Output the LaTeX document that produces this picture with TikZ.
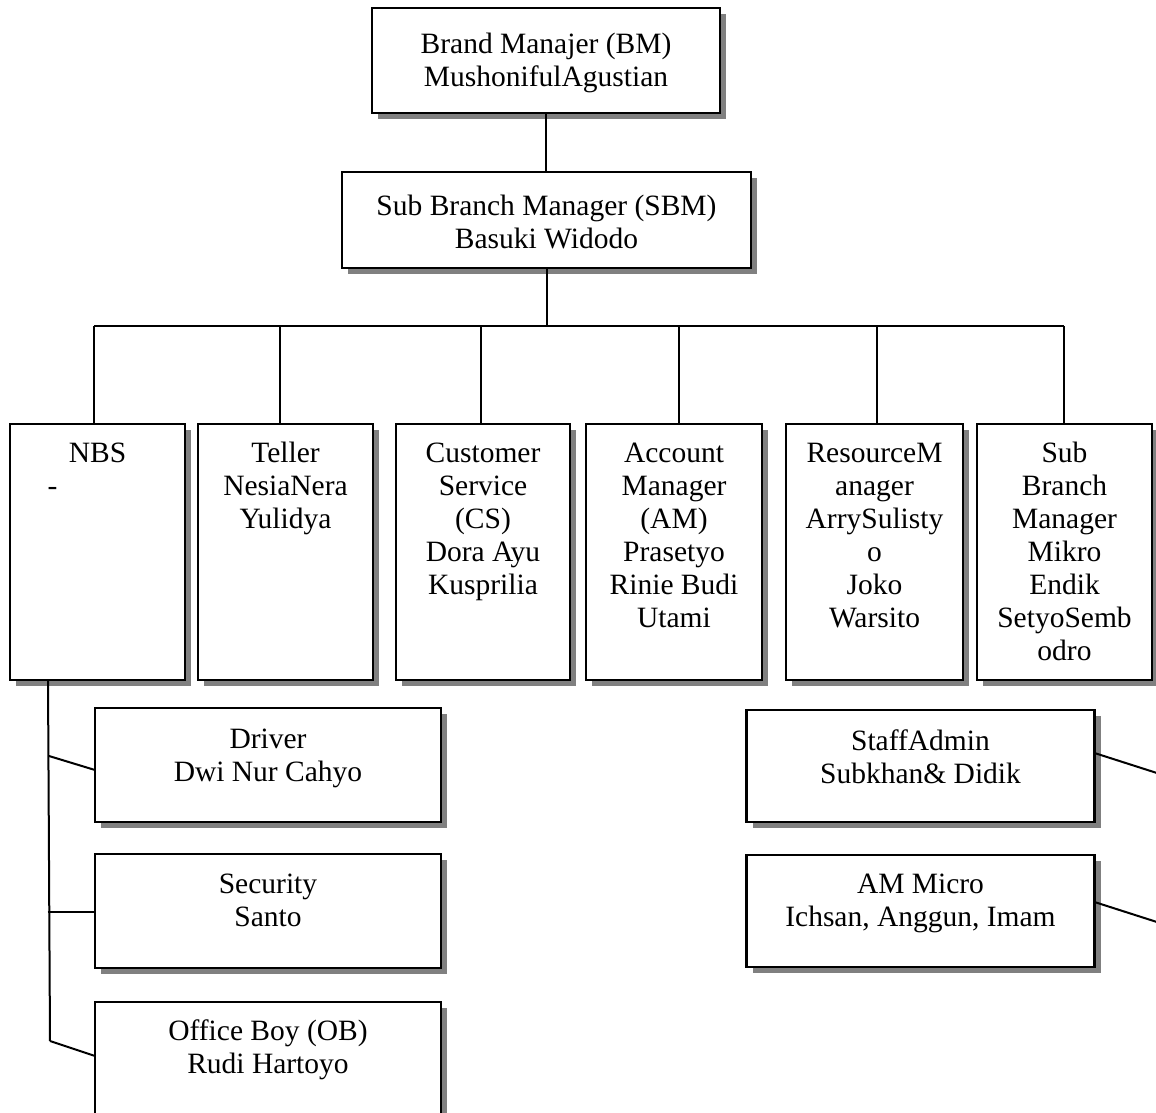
\documentclass[tikz,border=0pt]{standalone}
\usepackage{fontspec}
\setmainfont{Liberation Serif}
\usetikzlibrary{shadows,calc}
\newcommand\boxtext[4]{\parbox[c][#2][t]{#1}{\centering\rule{0pt}{#3}#4\par}}
\tikzset{
  orgbox/.style={draw, line width=2.3pt, fill=white, inner sep=0pt, outer sep=0pt,
    font=\fontsize{29.5}{33}\selectfont,
    drop shadow={shadow xshift=6pt, shadow yshift=-6pt, fill=black!50, opacity=1}},
  link/.style={line width=2pt}
}
\begin{document}
\begin{tikzpicture}[x=1pt,y=-1pt]
\useasboundingbox (0,0) rectangle (1156,1113);
% top levels
\node[orgbox] (bm) at (546,60.5) {\boxtext{348pt}{105pt}{46pt}{Brand Manajer (BM)\\MushonifulAgustian}};
\node[orgbox] (sbm) at (546.5,220) {\boxtext{409pt}{96pt}{43pt}{Sub Branch Manager (SBM)\\Basuki Widodo}};
% second level
\node[orgbox] (nbs) at (97.5,552) {\boxtext{175pt}{256pt}{38pt}{NBS\\\hspace*{-90pt}-}};
\node[orgbox] (teller) at (285.5,552) {\boxtext{175pt}{256pt}{38pt}{Teller\\NesiaNera\\Yulidya}};
\node[orgbox] (cs) at (483,552) {\boxtext{174pt}{256pt}{38pt}{Customer\\Service\\(CS)\\Dora Ayu\\Kusprilia}};
\node[orgbox] (am) at (674,552) {\boxtext{176pt}{256pt}{38pt}{Account\\Manager\\(AM)\\Prasetyo\\Rinie Budi\\Utami}};
\node[orgbox] (rm) at (874.5,552) {\boxtext{177pt}{256pt}{38pt}{ResourceM\\anager\\ArrySulisty\\o\\Joko\\Warsito}};
\node[orgbox] (sbmm) at (1064.5,552) {\boxtext{175pt}{256pt}{38pt}{Sub\\Branch\\Manager\\Mikro\\Endik\\SetyoSemb\\odro}};
% third level left
\node[orgbox] (driver) at (268,765) {\boxtext{346pt}{114pt}{40pt}{Driver\\Dwi Nur Cahyo}};
\node[orgbox] (security) at (268,911) {\boxtext{346pt}{114pt}{39pt}{Security\\Santo}};
\node[orgbox] (ob) at (268,1059) {\boxtext{346pt}{114pt}{38pt}{Office Boy (OB)\\Rudi Hartoyo}};
% third level right
\node[orgbox] (staff) at (920.5,766) {\boxtext{348pt}{112pt}{40pt}{StaffAdmin\\Subkhan\& Didik}};
\node[orgbox] (micro) at (920.5,911) {\boxtext{348pt}{112pt}{38pt}{AM Micro\\Ichsan, Anggun, Imam}};
% connectors
\coordinate (bL) at (94,326);
\coordinate (b2) at (280,326);
\coordinate (b3) at (481,326);
\coordinate (b4) at (679,326);
\coordinate (b5) at (877,326);
\coordinate (bR) at (1064,326);
\draw[link] (bm.south) -- (bm.south |- sbm.north);
\draw[link] (sbm.south) -- (sbm.south |- bL);
\draw[link] (bL) -- (bR);
\draw[link] (bL) -- (bL |- nbs.north);
\draw[link] (b2) -- (b2 |- teller.north);
\draw[link] (b3) -- (b3 |- cs.north);
\draw[link] (b4) -- (b4 |- am.north);
\draw[link] (b5) -- (b5 |- rm.north);
\draw[link] (bR) -- (bR |- sbmm.north);
% left spine
\coordinate (sx) at (48,0);
\coordinate (sEnd) at (50,1041);
\draw[link] (sx |- nbs.south) -- (sEnd);
\coordinate (j1) at (49,756);
\coordinate (j2) at (47.5,912);
\draw[link] (j1) -- ($(driver.west)+(0,5)$);
\draw[link] (j2) -- (j2 -| security.west);
\draw[link] (sEnd) -- ($(ob.west)+(0,-3)$);
% right side
\coordinate (r1) at (1160,774);
\coordinate (r2) at (1160,923);
\draw[link] ($(staff.east)+(0,-13)$) -- (r1);
\draw[link] ($(micro.east)+(0,-9)$) -- (r2);
\end{tikzpicture}
\end{document}
